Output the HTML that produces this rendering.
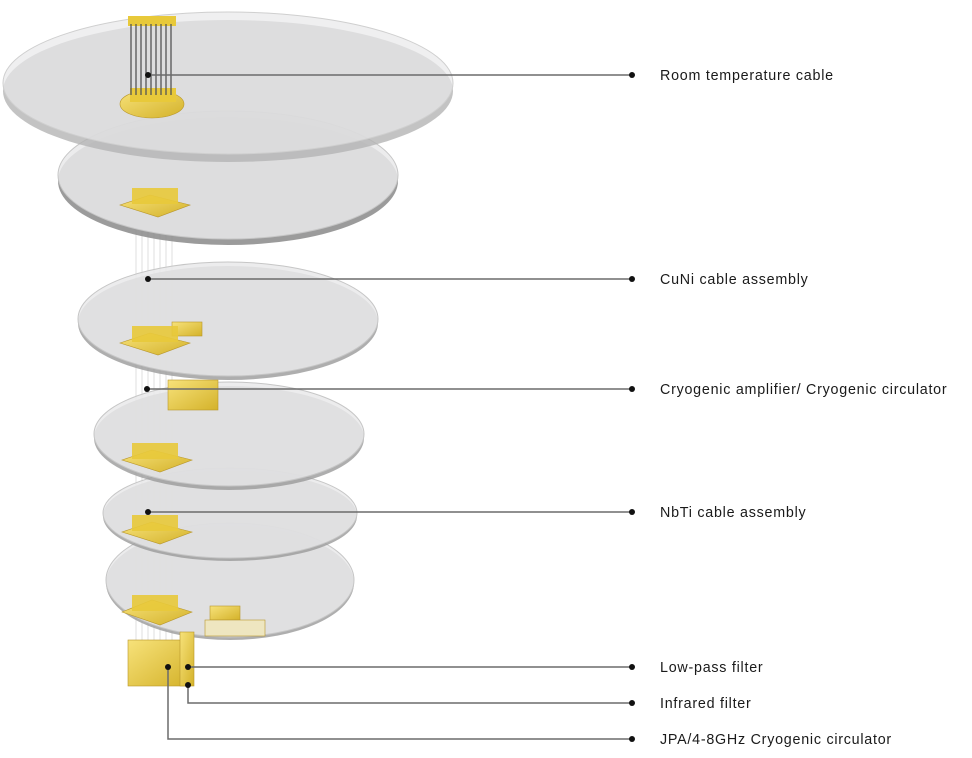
<!DOCTYPE html>
<html><head><meta charset="utf-8"><style>
html,body{margin:0;padding:0;background:#fff;width:972px;height:758px;overflow:hidden}
svg{display:block}
text{font-family:"Liberation Sans",sans-serif;font-size:14.3px;fill:#1a1a1a;letter-spacing:0.75px}
</style></head><body>
<svg width="972" height="758" viewBox="0 0 972 758" xmlns="http://www.w3.org/2000/svg">
<defs>
<linearGradient id="gold" x1="0" y1="0" x2="1" y2="1">
<stop offset="0" stop-color="#f7e27a"/><stop offset="1" stop-color="#d4b22a"/></linearGradient>
</defs>
<!-- cables -->
<g stroke="#e4e4e4" stroke-width="1.2">
<line x1="136" y1="160" x2="136" y2="640"/><line x1="142" y1="160" x2="142" y2="640"/>
<line x1="148" y1="160" x2="148" y2="640"/><line x1="154" y1="160" x2="154" y2="640"/>
<line x1="160" y1="160" x2="160" y2="640"/><line x1="166" y1="160" x2="166" y2="640"/>
<line x1="172" y1="160" x2="172" y2="640"/>
</g>
<!-- plates (bottom to top) -->
<g>
<ellipse cx="230" cy="583" rx="124" ry="57" fill="#9a9a9a" opacity="0.8"/>
<ellipse cx="230" cy="580" rx="124" ry="57" fill="#e9e9ea" fill-opacity="0.85" stroke="#c6c6c6"/>
<ellipse cx="230" cy="516" rx="127" ry="45" fill="#9a9a9a" opacity="0.8"/>
<ellipse cx="230" cy="513" rx="127" ry="45" fill="#e9e9ea" fill-opacity="0.85" stroke="#c6c6c6"/>
<ellipse cx="229" cy="438" rx="135" ry="52" fill="#9a9a9a" opacity="0.8"/>
<ellipse cx="229" cy="434" rx="135" ry="52" fill="#e9e9ea" fill-opacity="0.85" stroke="#c6c6c6"/>
<ellipse cx="228" cy="323" rx="150" ry="57" fill="#9a9a9a" opacity="0.8"/>
<ellipse cx="228" cy="319" rx="150" ry="57" fill="#e9e9ea" fill-opacity="0.85" stroke="#c6c6c6"/>
<ellipse cx="228" cy="181" rx="170" ry="64" fill="#8a8a8a" opacity="0.85"/>
<ellipse cx="228" cy="175" rx="170" ry="64" fill="#e9e9ea" fill-opacity="0.85" stroke="#c6c6c6"/>
<ellipse cx="228" cy="91" rx="225" ry="71" fill="#b4b4b4" opacity="0.8"/>
<ellipse cx="228" cy="83" rx="225" ry="71" fill="#e8e8e9" fill-opacity="0.7" stroke="#cfcfcf"/>
</g>
<!-- connectors -->
<g fill="url(#gold)" stroke="#b8962a" stroke-width="0.6">
<polygon points="120,205 150,195 190,205 158,217"/>
<polygon points="120,343 150,333 190,343 158,355"/>
<rect x="172" y="322" width="30" height="14"/>
<rect x="168" y="380" width="50" height="30"/>
<polygon points="122,460 152,450 192,460 160,472"/>
<polygon points="122,532 152,522 192,532 160,544"/>
<polygon points="122,612 152,600 192,612 160,625"/>
<rect x="210" y="606" width="30" height="14"/>
<rect x="205" y="620" width="60" height="16" fill="#eee6c0"/>
<rect x="128" y="640" width="62" height="46"/>
<rect x="180" y="632" width="14" height="54"/>
<ellipse cx="152" cy="104" rx="32" ry="14"/>
</g>
<g fill="#e8c93a">
<rect x="132" y="188" width="46" height="16" opacity=".9"/>
<rect x="132" y="326" width="46" height="16" opacity=".9"/>
<rect x="132" y="443" width="46" height="16" opacity=".9"/>
<rect x="132" y="515" width="46" height="16" opacity=".9"/>
<rect x="132" y="595" width="46" height="16" opacity=".9"/>
<rect x="130" y="88" width="46" height="14"/>
<rect x="128" y="16" width="48" height="10"/>
</g>
<g stroke="#555" stroke-width="1.3">
<line x1="131" y1="24" x2="131" y2="95"/><line x1="136" y1="24" x2="136" y2="95"/>
<line x1="141" y1="24" x2="141" y2="95"/><line x1="146" y1="24" x2="146" y2="95"/>
<line x1="151" y1="24" x2="151" y2="95"/><line x1="156" y1="24" x2="156" y2="95"/>
<line x1="161" y1="24" x2="161" y2="95"/><line x1="166" y1="24" x2="166" y2="95"/>
<line x1="171" y1="24" x2="171" y2="95"/>
</g>
<!-- leader lines -->
<g stroke="#6b6b6b" stroke-width="1.5" fill="none">
<line x1="148" y1="75" x2="632" y2="75"/>
<line x1="148" y1="279" x2="632" y2="279"/>
<line x1="147" y1="389" x2="632" y2="389"/>
<line x1="148" y1="512" x2="632" y2="512"/>
<line x1="188" y1="667" x2="632" y2="667"/>
<polyline points="188,685 188,703 632,703"/>
<polyline points="168,667 168,739 632,739"/>
</g>
<g fill="#111">
<circle cx="148" cy="75" r="3"/><circle cx="632" cy="75" r="3"/>
<circle cx="148" cy="279" r="3"/><circle cx="632" cy="279" r="3"/>
<circle cx="147" cy="389" r="3"/><circle cx="632" cy="389" r="3"/>
<circle cx="148" cy="512" r="3"/><circle cx="632" cy="512" r="3"/>
<circle cx="188" cy="667" r="3"/><circle cx="632" cy="667" r="3"/>
<circle cx="188" cy="685" r="3"/><circle cx="632" cy="703" r="3"/>
<circle cx="168" cy="667" r="3"/><circle cx="632" cy="739" r="3"/>
</g>
<text x="660" y="80">Room temperature cable</text>
<text x="660" y="284">CuNi cable assembly</text>
<text x="660" y="394">Cryogenic amplifier/  Cryogenic circulator</text>
<text x="660" y="517">NbTi cable assembly</text>
<text x="660" y="672">Low-pass filter</text>
<text x="660" y="708">Infrared filter</text>
<text x="660" y="744">JPA/4-8GHz Cryogenic circulator</text>
</svg>
</body></html>
